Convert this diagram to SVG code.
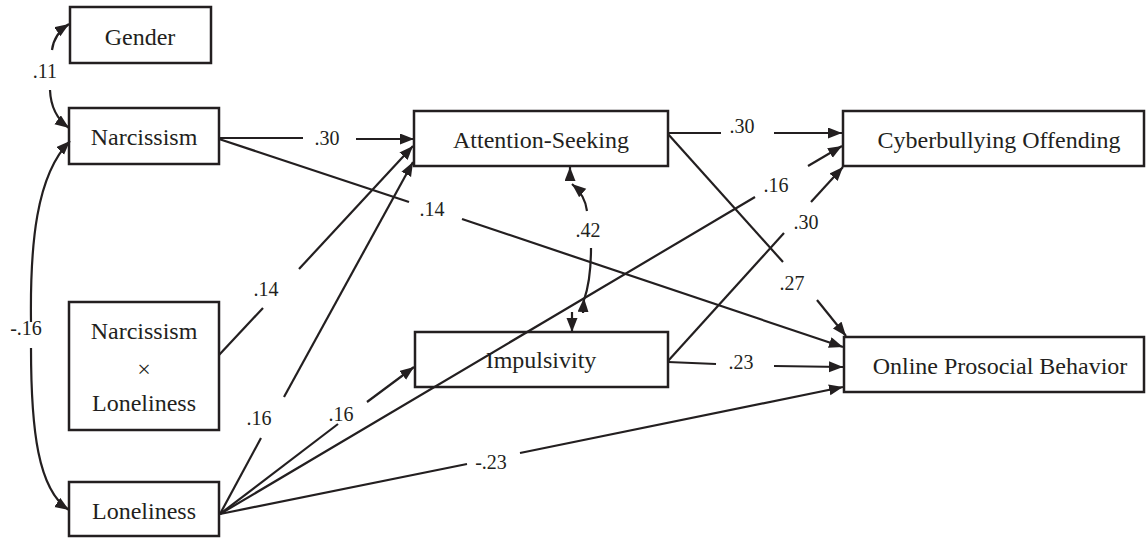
<svg xmlns="http://www.w3.org/2000/svg" width="1146" height="538" viewBox="0 0 1146 538">
<style>
.box{fill:#fff;stroke:#231f20;stroke-width:2.5}
.nt{font-family:"Liberation Serif","DejaVu Serif",serif;font-size:24px;fill:#231f20;text-anchor:middle}
.lb{font-family:"Liberation Serif","DejaVu Serif",serif;font-size:20px;fill:#231f20;text-anchor:middle}
.ln{fill:none;stroke:#231f20;stroke-width:2.2}
</style>
<defs>
<marker id="ah" markerUnits="userSpaceOnUse" markerWidth="15" markerHeight="12" refX="14" refY="5.5" orient="auto">
<path d="M0,0 L14,5.5 L0,11 z" fill="#231f20"/>
</marker>
</defs>
<rect width="1146" height="538" fill="#fff"/>
<g id="gender"><rect class="box" x="70" y="7" width="141" height="56"/><text class="nt" x="140" y="45">Gender</text></g>
<g id="narcissism"><rect class="box" x="69" y="108" width="150" height="56"/><text class="nt" x="144" y="145">Narcissism</text></g>
<g id="interaction"><rect class="box" x="69" y="302" width="150" height="128"/><text class="nt" x="144" y="339">Narcissism</text><text class="nt" x="144" y="377">×</text><text class="nt" x="144" y="411">Loneliness</text></g>
<g id="loneliness"><rect class="box" x="69" y="482" width="150" height="54"/><text class="nt" x="144" y="519">Loneliness</text></g>
<g id="attention"><rect class="box" x="414" y="111" width="254" height="55"/><text class="nt" x="541" y="148">Attention-Seeking</text></g>
<g id="impulsivity"><rect class="box" x="415" y="332" width="253" height="55"/><text class="nt" x="541" y="368">Impulsivity</text></g>
<g id="cyberbullying"><rect class="box" x="843" y="111" width="301" height="55"/><text class="nt" x="999" y="148">Cyberbullying Offending</text></g>
<g id="prosocial"><rect class="box" x="844" y="337" width="300" height="55"/><text class="nt" x="1000" y="374">Online Prosocial Behavior</text></g>
<g id="connectors">
<path class="ln" d="M219,138 L303,138"/>
<path class="ln" d="M356,139 L414,139" marker-end="url(#ah)"/>
<path class="ln" d="M219,139 L409,202"/>
<path class="ln" d="M462,219 L843,347" marker-end="url(#ah)"/>
<path class="ln" d="M219,355 L263,308"/>
<path class="ln" d="M299,269 L413,146" marker-end="url(#ah)"/>
<path class="ln" d="M220,514 L261,438"/>
<path class="ln" d="M284,397 L413,162" marker-end="url(#ah)"/>
<path class="ln" d="M220,514 L338,424"/>
<path class="ln" d="M367,402 L414,367" marker-end="url(#ah)"/>
<path class="ln" d="M220,514 L755,197"/>
<path class="ln" d="M808,166 L842,146" marker-end="url(#ah)"/>
<path class="ln" d="M220,514 L467,464"/>
<path class="ln" d="M520,453 L843,387" marker-end="url(#ah)"/>
<path class="ln" d="M668,133 L721,133"/>
<path class="ln" d="M774,133 L842,133" marker-end="url(#ah)"/>
<path class="ln" d="M668,134 L783,262"/>
<path class="ln" d="M817,300 L846,336" marker-end="url(#ah)"/>
<path class="ln" d="M668,361 L784,233"/>
<path class="ln" d="M811,202 L843,167" marker-end="url(#ah)"/>
<path class="ln" d="M668,362 L716,364"/>
<path class="ln" d="M774,366 L843,367" marker-end="url(#ah)"/>
<path class="ln" d="M52,50 Q54,34 69,24" marker-end="url(#ah)"/>
<path class="ln" d="M50,90 Q51,115 69,128" marker-end="url(#ah)"/>
<path class="ln" d="M31,322 C30,245 36,175 70,141" marker-end="url(#ah)"/>
<path class="ln" d="M31,348 C31,430 38,490 69,510" marker-end="url(#ah)"/>
<path class="ln" d="M587,211 Q585,195 572,184" marker-end="url(#ah)"/>
<path class="ln" d="M570,180 L570,167" marker-end="url(#ah)"/>
<path class="ln" d="M591,248 Q591,280 584,300"/>
<path class="ln" d="M583,313 L584,298" marker-end="url(#ah)"/>
<path class="ln" d="M572,312 L572,332" marker-end="url(#ah)"/>
</g>
<g id="labels">
<text class="lb" x="45" y="78">.11</text>
<text class="lb" x="26" y="335">-.16</text>
<text class="lb" x="327" y="145">.30</text>
<text class="lb" x="432" y="216">.14</text>
<text class="lb" x="266" y="296">.14</text>
<text class="lb" x="259" y="425">.16</text>
<text class="lb" x="341" y="421">.16</text>
<text class="lb" x="491" y="469">-.23</text>
<text class="lb" x="588" y="237">.42</text>
<text class="lb" x="742" y="133">.30</text>
<text class="lb" x="776" y="192">.16</text>
<text class="lb" x="806" y="229">.30</text>
<text class="lb" x="792" y="290">.27</text>
<text class="lb" x="741" y="369">.23</text>
</g>
</svg>
